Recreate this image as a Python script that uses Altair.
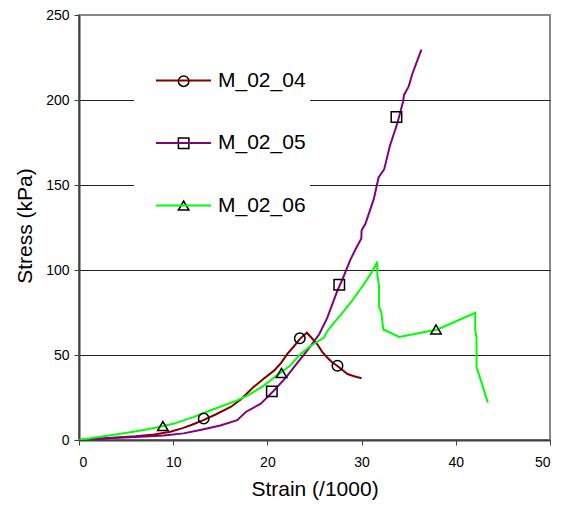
import altair as alt
import pandas as pd

series_names = ["M_02_04", "M_02_05", "M_02_06"]
series_colors = ["#800000", "#800080", "#00ff00"]
series_shapes = ["circle", "square", "triangle-up"]

m04_x = [0, 2, 4, 6, 8, 9.7, 11, 12, 13.2, 14.5, 16.1, 17.2, 18.5, 19.6, 20.7, 21.4, 22.1, 22.8, 23.5, 24.2, 24.7, 25.3, 25.8, 26.35, 26.8, 27.4, 28.5, 29.2, 30.0]
m04_y = [0, 0.8, 1.5, 2.2, 3.2, 4.9, 7, 9, 11.7, 15, 19.4, 24, 31, 36, 40.8, 45, 50.5, 55, 59.8, 63.1, 60, 56.3, 52, 48.5, 46, 43.7, 38.8, 37.5, 36.3]

m05_x = [0, 3, 6, 9, 11.1, 13, 15, 16.8, 17.7, 19.3, 20.7, 22.0, 22.8, 24.2, 25.5, 26.35, 27.4, 28.0, 28.8, 29.4, 29.97, 30.0, 30.4, 31.3, 31.8, 32.4, 33.0, 33.8, 34.4, 34.5, 35.0, 35.4, 36.35]
m05_y = [0, 1, 1.8, 2.7, 3.9, 6, 8.5, 11.7, 16.5, 21.4, 29.1, 37, 42.7, 52.4, 62.2, 71.8, 87.4, 95, 106, 112.6, 118.5, 123.4, 127.2, 141.8, 154.4, 159.3, 173, 186.5, 199, 203, 208, 215.6, 229.6]

m06_x = [0, 3, 5.78, 8, 10, 12.2, 14, 16.8, 18, 19.5, 21, 22.4, 23.5, 24.5, 26, 26.35, 27.0, 27.8, 29, 30.2, 31.0, 31.67, 31.67, 31.85, 31.85, 32.1, 32.3, 34.0, 38.05, 42.06, 42.06, 42.2, 42.2, 43.4]
m06_y = [0, 2.5, 4.9, 7, 9.5, 13.6, 17.5, 23.3, 26.5, 31.5, 38, 43.7, 50.5, 55, 60.2, 64, 68.5, 73.8, 82, 91.3, 98, 104.9, 97, 91, 78.7, 74.8, 65, 60.6, 65, 74.8, 65, 60, 43, 22]

mk04_x = [13.24, 23.44, 27.44]
mk04_y = [12.6, 59.8, 43.7]
mk05_x = [20.47, 27.63, 33.7]
mk05_y = [28.6, 91.3, 190]
mk06_x = [8.9, 21.5, 37.9]
mk06_y = [8.2, 39.4, 65]

x_ticks = [0, 10, 20, 30, 40, 50]
y_ticks = [0, 50, 100, 150, 200, 250]

line_rows = []
for name, xs, ys in zip(series_names, [m04_x, m05_x, m06_x], [m04_y, m05_y, m06_y]):
    for i, (a, b) in enumerate(zip(xs, ys)):
        line_rows.append({"series": name, "strain": a, "stress": b, "idx": i})
lines_df = pd.DataFrame(line_rows)

mk_rows = []
for name, xs, ys in zip(series_names, [mk04_x, mk05_x, mk06_x], [mk04_y, mk05_y, mk06_y]):
    for a, b in zip(xs, ys):
        mk_rows.append({"series_s": name, "strain": a, "stress": b})
mk_df = pd.DataFrame(mk_rows)

FONT = "Liberation Sans"

x_enc = alt.X(
    "strain:Q",
    scale=alt.Scale(domain=[0, 50], nice=False, zero=False),
    axis=alt.Axis(
        values=x_ticks, title="Strain (/1000)", grid=False,
        labelPadding=10, titleY=55, titleBaseline="alphabetic",
    ),
)
y_enc = alt.Y(
    "stress:Q",
    scale=alt.Scale(domain=[0, 250], nice=False),
    axis=alt.Axis(
        values=y_ticks, title="Stress (kPa)", grid=True,
        gridOpacity=alt.condition("datum.value == 250 || datum.value == 0", alt.value(0), alt.value(1)),
        labelPadding=5, titleX=-54, titleY=210.5, titleAngle=270,
        titleAlign="center", titleBaseline="middle",
    ),
)

lines = alt.Chart(lines_df).mark_line(strokeWidth=2, clip=True).encode(
    x=x_enc,
    y=y_enc,
    order="idx:Q",
    color=alt.Color(
        "series:N",
        scale=alt.Scale(domain=series_names, range=series_colors),
        legend=alt.Legend(
            title=None, orient="none", legendX=76, legendY=37, padding=0,
            symbolType="stroke", symbolSize=3025, symbolStrokeWidth=2,
            labelFontSize=21, labelFont=FONT, labelColor="black", labelOffset=6,
            rowPadding=23.5, zindex=2,
        ),
    ),
)

markers = alt.Chart(mk_df).mark_point(
    filled=False, color="black", size=110, strokeWidth=1.5, opacity=1
).encode(
    x="strain:Q",
    y="stress:Q",
    shape=alt.Shape(
        "series_s:N",
        scale=alt.Scale(range=series_shapes),
        legend=alt.Legend(
            title=None, orient="none", legendX=55, legendY=16.5, padding=40.5,
            fillColor="white", symbolSize=110, symbolStrokeWidth=1.5,
            symbolStrokeColor="black", symbolFillColor="transparent", symbolOpacity=1,
            labelFontSize=18.3, labelExpr="''", labelOffset=76.3,
            rowPadding=43.2, zindex=1,
        ),
    ),
)

chart = alt.layer(lines, markers).properties(
    width=471, height=425,
    background="white",
    autosize=alt.AutoSizeParams(type="none"),
    padding={"left": 71, "top": 7, "right": 5, "bottom": 60},
).configure_view(
    stroke="#888888", strokeWidth=2
).configure_axis(
    domainColor="#404040", domainWidth=2,
    tickColor="#404040", tickSize=5, tickWidth=1,
    gridColor="#222222", gridWidth=1,
    labelFont=FONT, labelFontSize=14, labelColor="black",
    titleFont=FONT, titleFontSize=21, titleFontWeight="normal", titleColor="black",
)

chart.save("out.html", embed_options={"renderer": "svg", "actions": False})
